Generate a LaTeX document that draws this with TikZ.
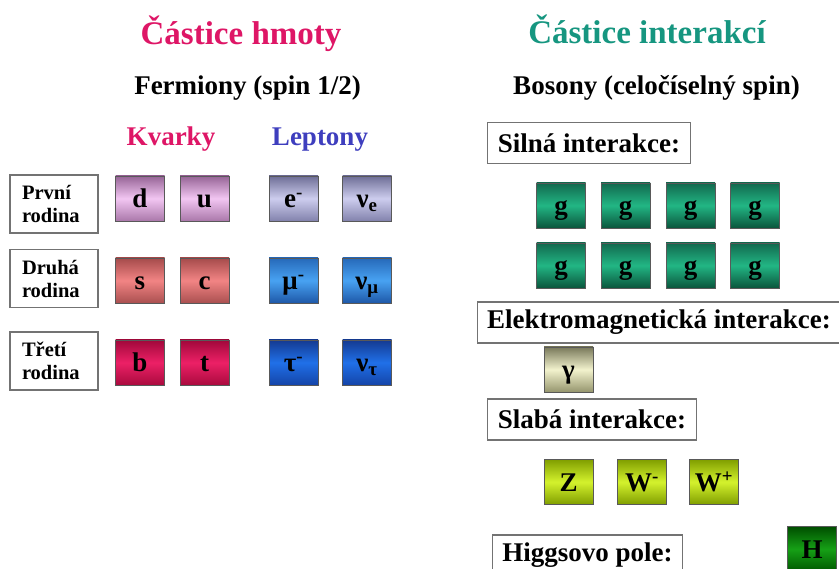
\documentclass[tikz,border=0pt]{standalone}
\usepackage{fontspec}
\setmainfont{Liberation Serif}
\usepackage{tikz}

\definecolor{hmota}{RGB}{222,22,102}
\definecolor{interakce}{RGB}{22,150,128}
\definecolor{leptonblue}{RGB}{62,62,190}
% barvy krabicek (nahore, uprostred, dole)
\definecolor{q1a}{RGB}{150,100,150}\definecolor{q1b}{RGB}{242,198,242}\definecolor{q1c}{RGB}{170,120,170}
\definecolor{q2a}{RGB}{165,75,75}\definecolor{q2b}{RGB}{242,132,132}\definecolor{q2c}{RGB}{170,80,80}
\definecolor{q3a}{RGB}{160,8,58}\definecolor{q3b}{RGB}{236,32,102}\definecolor{q3c}{RGB}{170,10,62}
\definecolor{l1a}{RGB}{110,110,150}\definecolor{l1b}{RGB}{205,205,238}\definecolor{l1c}{RGB}{130,130,172}
\definecolor{l2a}{RGB}{38,105,185}\definecolor{l2b}{RGB}{72,162,242}\definecolor{l2c}{RGB}{30,88,168}
\definecolor{l3a}{RGB}{20,58,145}\definecolor{l3b}{RGB}{32,112,232}\definecolor{l3c}{RGB}{20,68,168}
\definecolor{ga}{RGB}{18,105,78}\definecolor{gb}{RGB}{34,182,132}\definecolor{gc}{RGB}{10,85,60}
\definecolor{fa}{RGB}{120,120,90}\definecolor{fb}{RGB}{242,242,205}\definecolor{fc}{RGB}{150,150,110}
\definecolor{wa}{RGB}{128,158,0}\definecolor{wb}{RGB}{212,242,45}\definecolor{wc}{RGB}{128,158,0}
\definecolor{ha}{RGB}{0,78,0}\definecolor{hb}{RGB}{22,160,22}\definecolor{hc}{RGB}{0,88,0}

\begin{document}
\begin{tikzpicture}[x=1pt,y=-1pt,
  part/.style={draw=black!65,line width=0.8pt,minimum width=49pt,minimum height=45pt,
    inner sep=0pt,text height=19pt,text depth=0pt,font=\fontsize{27}{27}\selectfont\bfseries},
  grad/.style={top color=#1a,bottom color=#1c,middle color=#1b},
  lbl/.style={draw=black!55,line width=1.2pt,minimum height=41pt,inner xsep=10pt,
    font=\fontsize{27}{30}\selectfont\bfseries},
  rod/.style={draw=black!55,line width=1.2pt,align=left,text width=64pt,inner xsep=12pt,
    minimum height=58pt,font=\fontsize{20.5}{23}\selectfont\bfseries},
  title/.style={anchor=base,font=\fontsize{33}{33}\selectfont\bfseries},
  head/.style={anchor=base,font=\fontsize{27}{27}\selectfont\bfseries}]
\clip (0,0) rectangle (839,569);
% titles
\node[title,text=hmota] (th) at (241,45) {Částice hmoty};
\node[title,text=interakce] (ti) at (647,44) {Částice interakcí};
\node[head] (fer) at (247.5,95) {Fermiony (spin 1/2)};
\node[head] (bos) at (656.5,95) {Bosony (celočíselný spin)};
\node[head,text=hmota] (kv) at (171,146) {Kvarky};
\node[head,text=leptonblue] (lep) at (320,146) {Leptony};
% rodiny
\node[rod] (r1) at (54,204) {První\\rodina};
\node[rod] (r2) at (54,278.5) {Druhá\\rodina};
\node[rod] (r3) at (54,361) {Třetí\\rodina};
% kvarky
\node[part,grad=q1] (d) at (140,198.5) {d};
\node[part,grad=q1] (u) at (204.5,198.5) {u};
\node[part,grad=q2] (s) at (140,280.5) {s};
\node[part,grad=q2] (c) at (204.5,280.5) {c};
\node[part,grad=q3] (b) at (140,362.5) {b};
\node[part,grad=q3] (t) at (204.5,362.5) {t};
% leptony
\node[part,grad=l1] (e) at (293.5,198.5) {e\textsuperscript{-}};
\node[part,grad=l1] (ne) at (367,198.5) {ν\textsubscript{e}};
\node[part,grad=l2] (mu) at (293.5,280.5) {μ\textsuperscript{-}};
\node[part,grad=l2] (nmu) at (367,280.5) {ν\textsubscript{μ}};
\node[part,grad=l3] (tau) at (293.5,362.5) {τ\textsuperscript{-}};
\node[part,grad=l3] (ntau) at (367,362.5) {ν\textsubscript{τ}};
% silna interakce
\node[lbl] (sil) at (589,143) {Silná interakce:};
\foreach \i/\x in {1/561,2/625.5,3/690.5,4/755} {
  \node[part,grad=g] (ga\i) at (\x,205.5) {g};
  \node[part,grad=g] (gb\i) at (\x,265.5) {g};
}
% elektromagneticka interakce
\node[lbl,minimum width=360pt] (em) at (659,322.5) {Elektromagnetická interakce:};
\node[part,grad=f] (gam) at (568.5,369.5) {γ};
% slaba interakce
\node[lbl] (sla) at (592,419.5) {Slabá interakce:};
\node[part,grad=w] (z) at (568.5,482) {Z};
\node[part,grad=w] (wm) at (642,482) {W\textsuperscript{-}};
\node[part,grad=w] (wp) at (714,482) {W\textsuperscript{+}};
% higgs
\node[lbl] (hig) at (587.5,555.5) {Higgsovo pole:};
\node[part,grad=h] (h) at (812,549) {H};
\end{tikzpicture}
\end{document}
